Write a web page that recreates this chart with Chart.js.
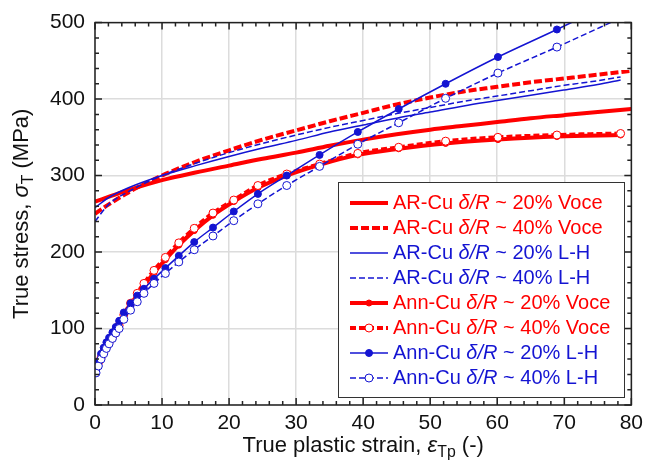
<!DOCTYPE html>
<html>
<head>
<meta charset="utf-8">
<script src="https://cdn.jsdelivr.net/npm/chart.js@4.4.0/dist/chart.umd.min.js"></script>
<style>
    html, body { margin: 0; padding: 0; background: #fff; }
</style>
</head>
<body>
<canvas id="stressChart" width="649" height="466"></canvas>
<script>
// Graduations des axes
const xTicks = [0, 10, 20, 30, 40, 50, 60, 70, 80];
const yTicks = [0, 100, 200, 300, 400, 500];

// Cuivre brut (AR-Cu) : courbes ajustées
const arStrain = [0, 2, 5, 10, 15, 20, 25, 30, 35, 40, 45, 50, 55, 60, 65, 70, 75, 80];
const ar20Voce = [266, 272, 281, 294, 304, 313, 322, 330, 339, 347, 354, 360, 365, 370, 375, 379, 383, 387];
const ar40Voce = [250, 262, 278, 300, 318, 333, 347, 359, 371, 382, 393, 402, 410, 416, 422, 427, 432, 437];
const arLhStrain = [0, 2, 5, 10, 15, 20, 25, 30, 35, 40, 45, 50, 55, 60, 65, 70, 75, 78.4];
const ar20LH = [258, 271, 284, 300, 313, 325, 336, 346, 357, 366, 375, 383, 391, 398, 405, 412, 419, 425];
const ar40LH = [240, 262, 279, 300, 316, 330, 342, 353, 363, 372, 381, 389, 397, 404, 411, 418, 424, 429];

// Cuivre recuit (Ann-Cu) : points marqués
const annStrain = [0.15, 0.5, 0.9, 1.3, 1.7, 2.1, 2.6, 3.1, 3.6, 4.3, 5.3, 6.3, 7.3, 8.8, 10.5, 12.5, 14.8, 17.6, 20.7, 24.3, 28.6, 33.5, 39.2, 45.3, 52.3, 60.1, 68.9, 78.4];
const ann20Voce = [47, 54, 62, 69, 76, 82, 89, 96, 104, 117, 131, 144, 156, 173, 190, 209, 228, 248, 266, 284, 300, 314, 327, 335, 342, 347, 351, 353];
const ann40Voce = [48, 55, 62, 69, 76, 82, 89, 96, 104, 118, 133, 146, 159, 176, 193, 212, 231, 251, 268, 287, 302, 315, 329, 337, 345, 350, 353, 355];
const ann20LH = [45, 57, 67, 75, 82, 88, 95, 102, 110, 121, 133, 143, 152, 165, 179, 195, 213, 232, 253, 276, 300, 327, 357, 387, 420, 455, 491, 531];
const ann40LH = [42, 51, 60, 67, 74, 80, 87, 94, 100, 112, 124, 135, 146, 159, 172, 187, 203, 221, 241, 263, 287, 312, 341, 369, 401, 434, 468, 506];

const seriesNames = [
    'AR-Cu δ/R ~ 20% Voce',
    'AR-Cu δ/R ~ 40% Voce',
    'AR-Cu δ/R ~ 20% L-H',
    'AR-Cu δ/R ~ 40% L-H',
    'Ann-Cu δ/R ~ 20% Voce',
    'Ann-Cu δ/R ~ 40% Voce',
    'Ann-Cu δ/R ~ 20% L-H',
    'Ann-Cu δ/R ~ 40% L-H'
];

const RED = '#ff0000';
const BLUE = '#1414d2';
const FONT = '"Liberation Sans", Arial, sans-serif';

function toPoints(xs, ys) {
    return xs.map((x, i) => ({ x: x, y: ys[i] }));
}

function makeSeries(label, xs, ys, color, width, dash, marker, order) {
    return {
        label: label,
        data: toPoints(xs, ys),
        borderColor: color,
        borderWidth: width,
        borderDash: dash,
        pointRadius: marker ? marker.radius : 0,
        pointBackgroundColor: marker ? marker.fill : color,
        pointBorderColor: color,
        pointBorderWidth: marker ? marker.border : 0,
        cubicInterpolationMode: 'monotone',
        fill: false,
        order: order
    };
}

const datasets = [
    makeSeries(seriesNames[0], arStrain, ar20Voce, RED, 4, [], null, 8),
    makeSeries(seriesNames[1], arStrain, ar40Voce, RED, 4, [8, 3], null, 7),
    makeSeries(seriesNames[2], arLhStrain, ar20LH, BLUE, 1.5, [], null, 4),
    makeSeries(seriesNames[3], arLhStrain, ar40LH, BLUE, 1.5, [6, 3], null, 3),
    makeSeries(seriesNames[4], annStrain, ann20Voce, RED, 4, [], { radius: 3, fill: RED, border: 1 }, 6),
    makeSeries(seriesNames[5], annStrain, ann40Voce, RED, 4, [6, 3], { radius: 4, fill: '#fff', border: 1 }, 5),
    makeSeries(seriesNames[6], annStrain, ann20LH, BLUE, 1.5, [], { radius: 3.5, fill: BLUE, border: 1 }, 2),
    makeSeries(seriesNames[7], annStrain, ann40LH, BLUE, 1.5, [6, 3], { radius: 4, fill: '#fff', border: 1 }, 1)
];

// Cadre + graduations vers l'intérieur
const framePlugin = {
    id: 'frame',
    afterDatasetsDraw(chart) {
        const { ctx, chartArea: a, scales } = chart;
        ctx.save();
        ctx.strokeStyle = '#222';
        ctx.lineWidth = 1.5;
        ctx.strokeRect(a.left, a.top, a.right - a.left, a.bottom - a.top);

        const xStep = (xTicks[1] - xTicks[0]) / 5;
        for (let v = xTicks[0]; v <= xTicks[xTicks.length - 1] + 1e-9; v += xStep) {
            const px = scales.x.getPixelForValue(v);
            const major = Math.abs(v / 10 - Math.round(v / 10)) < 1e-6;
            const len = major ? 7 : 4;
            ctx.beginPath();
            ctx.moveTo(px, a.bottom); ctx.lineTo(px, a.bottom - len);
            ctx.moveTo(px, a.top); ctx.lineTo(px, a.top + len);
            ctx.stroke();
        }
        const yStep = (yTicks[1] - yTicks[0]) / 5;
        for (let v = yTicks[0]; v <= yTicks[yTicks.length - 1] + 1e-9; v += yStep) {
            const py = scales.y.getPixelForValue(v);
            const major = Math.abs(v / 100 - Math.round(v / 100)) < 1e-6;
            const len = major ? 7 : 4;
            ctx.beginPath();
            ctx.moveTo(a.left, py); ctx.lineTo(a.left + len, py);
            ctx.moveTo(a.right, py); ctx.lineTo(a.right - len, py);
            ctx.stroke();
        }
        ctx.restore();
    }
};

// Texte avec une partie en italique (δ/R, ε, σ)
function drawRich(ctx, parts, x, y, size) {
    let cx = x;
    parts.forEach(p => {
        const fs = p.sub ? size * 0.72 : size;
        ctx.font = (p.italic ? 'italic ' : '') + fs + 'px ' + FONT;
        ctx.fillText(p.text, cx, y + (p.sub ? size * 0.3 : 0));
        cx += ctx.measureText(p.text).width;
    });
    return cx - x;
}

function measureRich(ctx, parts, size) {
    let w = 0;
    parts.forEach(p => {
        const fs = p.sub ? size * 0.72 : size;
        ctx.font = (p.italic ? 'italic ' : '') + fs + 'px ' + FONT;
        w += ctx.measureText(p.text).width;
    });
    return w;
}

const legendPlugin = {
    id: 'boxLegend',
    afterDraw(chart) {
        const ctx = chart.ctx;
        const box = { left: 338, top: 182, right: 624, bottom: 397 };
        ctx.save();
        ctx.fillStyle = '#fff';
        ctx.fillRect(box.left, box.top, box.right - box.left, box.bottom - box.top);
        ctx.strokeStyle = '#333';
        ctx.lineWidth = 1;
        ctx.strokeRect(box.left + 0.5, box.top + 0.5, box.right - box.left, box.bottom - box.top);

        chart.data.datasets.forEach((ds, i) => {
            const y = box.top + 21 + i * 25;
            // échantillon de ligne
            ctx.strokeStyle = ds.borderColor;
            ctx.lineWidth = ds.borderWidth;
            ctx.setLineDash(ds.borderDash);
            ctx.beginPath();
            ctx.moveTo(350, y); ctx.lineTo(388, y);
            ctx.stroke();
            ctx.setLineDash([]);
            if (ds.pointRadius > 0) {
                ctx.beginPath();
                ctx.arc(369, y, ds.pointRadius, 0, Math.PI * 2);
                ctx.fillStyle = ds.pointBackgroundColor;
                ctx.fill();
                ctx.lineWidth = ds.pointBorderWidth;
                ctx.stroke();
            }
            // libellé
            const [before, after] = ds.label.split('δ/R');
            ctx.fillStyle = ds.borderColor;
            ctx.textBaseline = 'middle';
            ctx.textAlign = 'left';
            drawRich(ctx, [
                { text: before },
                { text: 'δ/R', italic: true },
                { text: after }
            ], 393, y, 20);
        });
        ctx.restore();
    }
};

const axisTitlePlugin = {
    id: 'axisTitles',
    afterDraw(chart) {
        const { ctx, chartArea: a } = chart;
        ctx.save();
        ctx.fillStyle = '#111';
        ctx.textBaseline = 'middle';
        ctx.textAlign = 'left';

        const xParts = [
            { text: 'True plastic strain, ' },
            { text: 'ε', italic: true },
            { text: 'Tp', sub: true },
            { text: ' (-)' }
        ];
        const xw = measureRich(ctx, xParts, 22);
        drawRich(ctx, xParts, (a.left + a.right) / 2 - xw / 2, 446, 22);

        const yParts = [
            { text: 'True stress, ' },
            { text: 'σ', italic: true },
            { text: 'T', sub: true },
            { text: ' (MPa)' }
        ];
        const yw = measureRich(ctx, yParts, 22);
        ctx.translate(22, (a.top + a.bottom) / 2);
        ctx.rotate(-Math.PI / 2);
        drawRich(ctx, yParts, -yw / 2, 0, 22);
        ctx.restore();
    }
};

new Chart(document.getElementById('stressChart').getContext('2d'), {
    type: 'line',
    data: { datasets: datasets },
    options: {
        responsive: false,
        animation: false,
        layout: { padding: { left: 0, top: 20, right: 12, bottom: 0 } },
        plugins: {
            legend: { display: false },
            tooltip: { enabled: false }
        },
        scales: {
            x: {
                type: 'linear',
                min: xTicks[0],
                max: xTicks[xTicks.length - 1],
                afterBuildTicks: (scale) => { scale.ticks = xTicks.map(v => ({ value: v })); },
                afterFit: (scale) => { scale.height = 61; },
                ticks: { color: '#111', font: { size: 21, family: FONT }, padding: 6, maxRotation: 0 },
                grid: { color: '#dcdcdc', lineWidth: 1.5, drawTicks: false },
                border: { display: false }
            },
            y: {
                type: 'linear',
                min: yTicks[0],
                max: yTicks[yTicks.length - 1],
                afterBuildTicks: (scale) => { scale.ticks = yTicks.map(v => ({ value: v })); },
                afterFit: (scale) => { scale.width = 95; },
                ticks: { color: '#111', font: { size: 21, family: FONT }, padding: 10 },
                grid: { color: '#dcdcdc', lineWidth: 1.5, drawTicks: false },
                border: { display: false }
            }
        }
    },
    plugins: [framePlugin, legendPlugin, axisTitlePlugin]
});
</script>
</body>
</html>
